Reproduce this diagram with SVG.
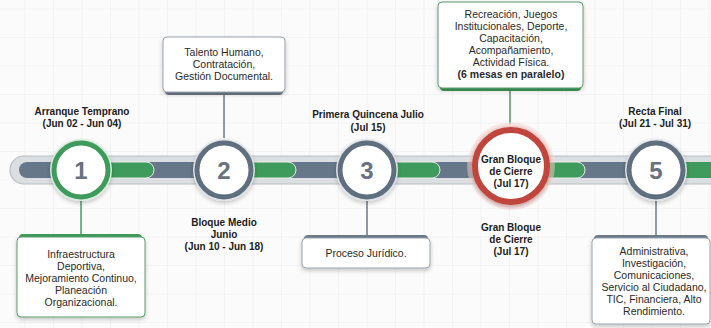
<svg xmlns="http://www.w3.org/2000/svg" width="711" height="328" viewBox="0 0 711 328">
<defs>
<pattern id="grid" width="28.5" height="28.5" patternUnits="userSpaceOnUse" x="-3" y="-19">
<path d="M28.5 0V28.5H0" fill="none" stroke="#e9ecef" stroke-width="1"/>
</pattern>
<filter id="sh" x="-20%" y="-20%" width="140%" height="150%">
<feDropShadow dx="0" dy="2" stdDeviation="2" flood-color="#000" flood-opacity="0.22"/>
</filter>
<radialGradient id="glow" cx="0.5" cy="0.5" r="0.5">
<stop offset="0.8" stop-color="#e8a9a3"/>
<stop offset="1" stop-color="#f6dcd9" stop-opacity="0.4"/>
</radialGradient>
</defs>
<style>
.lbl{font-family:"Liberation Sans",Arial,sans-serif;font-size:10px;font-weight:bold;fill:#222;text-anchor:middle}
.box{font-family:"Liberation Sans",Arial,sans-serif;font-size:10.5px;fill:#2a2a2a;text-anchor:middle}
.boxb{font-weight:bold}
.num{font-family:"Liberation Sans",Arial,sans-serif;font-size:24px;font-weight:bold;fill:#66727f;text-anchor:middle}
.card{fill:#fff;stroke:#9aa3ab;stroke-width:1}
.cardg{fill:#fff;stroke:#5a9a6c;stroke-width:1}
.green{fill:#3f9b5b}
.slate{fill:#667789}
.conn-g{stroke:#4f9a66;stroke-width:1.5;fill:none}
.conn-s{stroke:#6d7a88;stroke-width:1.5;fill:none}
</style>
<rect width="711" height="328" fill="#fbfbfb"/>
<rect width="711" height="328" fill="url(#grid)"/>

<g id="track">
<rect x="10" y="156" width="720" height="28" rx="14" fill="#dcdfe2" stroke="#b9bec4" stroke-width="1.2"/>
<rect x="19" y="162" width="710" height="16" rx="8" class="slate"/>
<path d="M104 162H146a8 8 0 0 1 0 16H104Z" class="green" stroke="#e8ece9" stroke-width="1"/>
<path d="M248 162H288a8 8 0 0 1 0 16H248Z" class="green" stroke="#e8ece9" stroke-width="1"/>
<path d="M392 162H432a8 8 0 0 1 0 16H392Z" class="green" stroke="#e8ece9" stroke-width="1"/>
<path d="M540 162H577a8 8 0 0 1 0 16H540Z" class="green" stroke="#e8ece9" stroke-width="1"/>
<path d="M682 162H720V178H682Z" class="green"/>
</g>

<g id="connectors">
<line x1="81" y1="200" x2="81" y2="238" class="conn-g"/>
<line x1="224" y1="92" x2="224" y2="138" class="conn-s"/>
<line x1="367" y1="200" x2="367" y2="238" class="conn-s"/>
<line x1="510" y1="88" x2="510" y2="124" class="conn-g"/>
<line x1="656" y1="200" x2="656" y2="238" class="conn-s"/>
</g>

<g id="node1">
<circle cx="81" cy="170" r="31" fill="#d9ebdf" filter="url(#sh)"/>
<circle cx="81" cy="170" r="27" fill="#fff" stroke="#3f9b5b" stroke-width="5"/>
<text x="81" y="179" class="num">1</text>
<text x="82" y="115" class="lbl">Arranque Temprano</text>
<text x="82" y="127" class="lbl">(Jun 02 - Jun 04)</text>
<rect x="19" y="234" width="123" height="20" rx="4" class="green"/>
<rect x="17" y="237" width="128" height="80" rx="4" class="cardg" filter="url(#sh)"/>
<text x="81" y="258" class="box">Infraestructura</text>
<text x="81" y="270" class="box">Deportiva,</text>
<text x="81" y="282" class="box">Mejoramiento Continuo,</text>
<text x="81" y="294" class="box">Planeación</text>
<text x="81" y="306" class="box">Organizacional.</text>
</g>

<g id="node2">
<circle cx="224" cy="170" r="31" fill="#dfe3e7" filter="url(#sh)"/>
<circle cx="224" cy="170" r="27" fill="#fff" stroke="#5f6f80" stroke-width="5"/>
<text x="224" y="179" class="num">2</text>
<rect x="165" y="72" width="118" height="23" rx="4" fill="#6d7a88"/>
<rect x="163" y="37" width="122" height="55" rx="4" class="card" filter="url(#sh)"/>
<text x="224" y="56" class="box">Talento Humano,</text>
<text x="224" y="68" class="box">Contratación,</text>
<text x="224" y="80" class="box">Gestión Documental.</text>
<text x="224" y="226" class="lbl">Bloque Medio</text>
<text x="224" y="238" class="lbl">Junio</text>
<text x="224" y="250" class="lbl">(Jun 10 - Jun 18)</text>
</g>

<g id="node3">
<circle cx="367" cy="170" r="31" fill="#dfe3e7" filter="url(#sh)"/>
<circle cx="367" cy="170" r="27" fill="#fff" stroke="#5f6f80" stroke-width="5"/>
<text x="367" y="179" class="num">3</text>
<text x="368" y="118" class="lbl">Primera Quincena Julio</text>
<text x="368" y="131" class="lbl">(Jul 15)</text>
<rect x="304" y="235" width="124" height="18" rx="4" fill="#6d7a88"/>
<rect x="302" y="238" width="128" height="30" rx="4" class="card" filter="url(#sh)"/>
<text x="366" y="257" class="box">Proceso Jurídico.</text>
</g>

<g id="node4">
<circle cx="511" cy="166" r="44" fill="url(#glow)"/>
<circle cx="511" cy="166" r="36" fill="#fff" stroke="#c0453d" stroke-width="6" filter="url(#sh)"/>
<text x="511" y="163" class="lbl">Gran Bloque</text>
<text x="511" y="175" class="lbl">de Cierre</text>
<text x="511" y="187" class="lbl">(Jul 17)</text>
<text x="511" y="231" class="lbl">Gran Bloque</text>
<text x="511" y="243" class="lbl">de Cierre</text>
<text x="511" y="255" class="lbl">(Jul 17)</text>
<rect x="440" y="70" width="141" height="21" rx="4" class="green"/>
<rect x="438" y="2" width="145" height="86" rx="4" class="cardg" filter="url(#sh)"/>
<text x="511" y="18" class="box">Recreación, Juegos</text>
<text x="511" y="30" class="box">Institucionales, Deporte,</text>
<text x="511" y="42" class="box">Capacitación,</text>
<text x="511" y="54" class="box">Acompañamiento,</text>
<text x="511" y="66" class="box">Actividad Física.</text>
<text x="511" y="78" class="box boxb">(6 mesas en paralelo)</text>
</g>

<g id="node5">
<circle cx="656" cy="170" r="31" fill="#dfe3e7" filter="url(#sh)"/>
<circle cx="656" cy="170" r="27" fill="#fff" stroke="#5f6f80" stroke-width="5"/>
<text x="656" y="179" class="num">5</text>
<text x="655" y="115" class="lbl">Recta Final</text>
<text x="655" y="127" class="lbl">(Jul 21 - Jul 31)</text>
<rect x="594" y="235" width="114" height="20" rx="4" fill="#6d7a88"/>
<rect x="592" y="238" width="118" height="86" rx="4" class="card" filter="url(#sh)"/>
<text x="654" y="255" class="box">Administrativa,</text>
<text x="654" y="267" class="box">Investigación,</text>
<text x="654" y="279" class="box">Comunicaciones,</text>
<text x="654" y="291" class="box">Servicio al Ciudadano,</text>
<text x="654" y="303" class="box">TIC, Financiera, Alto</text>
<text x="654" y="315" class="box">Rendimiento.</text>
</g>
</svg>
